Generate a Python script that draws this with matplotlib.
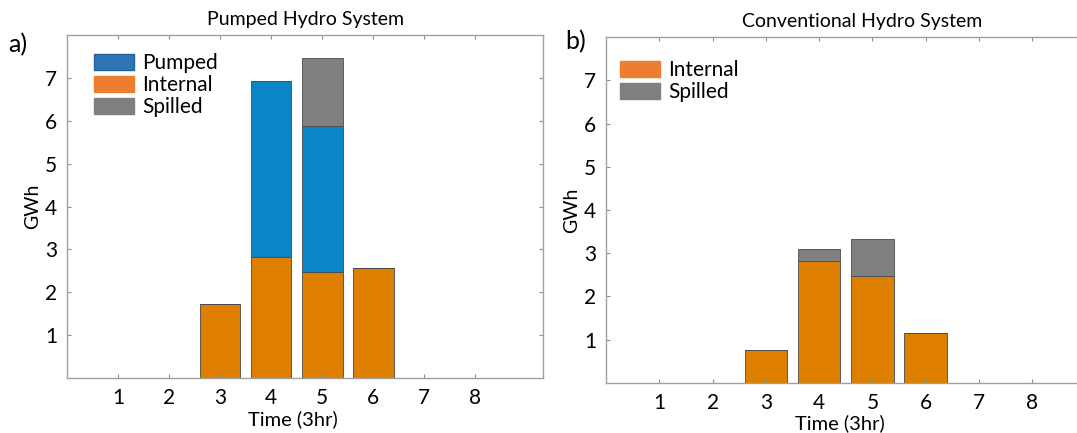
import matplotlib.pyplot as plt
from matplotlib.patches import Patch

plt.rcParams['font.family'] = ['Lato', 'DejaVu Sans']

# Data (GWh per 3 hr step)
time_steps = [1, 2, 3, 4, 5, 6, 7, 8]
pumped_internal = [0, 0, 1.72, 2.82, 2.47, 2.57, 0, 0]
pumped_pumped = [0, 0, 0, 4.11, 3.41, 0, 0, 0]
pumped_spilled = [0, 0, 0, 0, 1.58, 0, 0, 0]

conv_internal = [0, 0, 0.77, 2.83, 2.48, 1.15, 0, 0]
conv_spilled = [0, 0, 0, 0.26, 0.84, 0, 0, 0]

bar_orange = '#DF7F00'
bar_blue = '#0A85C8'
bar_grey = '#808080'
leg_blue = '#2E75B6'
leg_orange = '#ED7D31'
leg_grey = '#7F7F7F'
edge = '#4a4a4a'

fig = plt.figure(figsize=(10.77, 4.33), dpi=100)
ax1 = fig.add_axes([0.0622, 0.127, 0.442, 0.792])
ax2 = fig.add_axes([0.5627, 0.1155, 0.4615, 0.799])


def style(ax, xpad):
    ax.set_xlim(0, 9.33)
    ax.set_ylim(0, 8)
    ax.set_xticks(time_steps)
    ax.set_yticks([1, 2, 3, 4, 5, 6, 7])
    ax.tick_params(direction='in', top=True, right=True, length=3,
                   color='#909090', labelsize=15)
    ax.tick_params(axis='y', pad=7)
    ax.tick_params(axis='x', pad=xpad)
    for s in ax.spines.values():
        s.set_color('#a0a0a0')
        s.set_linewidth(1.0)
    ax.set_ylabel('GWh', fontsize=14, labelpad=3)


# a) pumped hydro
bottom2 = [a + b for a, b in zip(pumped_internal, pumped_pumped)]
ax1.bar(time_steps, pumped_internal, 0.8, color=bar_orange, edgecolor=edge, linewidth=0.6)
ax1.bar(time_steps, pumped_pumped, 0.8, bottom=pumped_internal, color=bar_blue,
        edgecolor=edge, linewidth=0.6)
ax1.bar(time_steps, pumped_spilled, 0.8, bottom=bottom2, color=bar_grey,
        edgecolor=edge, linewidth=0.6)
style(ax1, 7)
ax1.set_title('Pumped Hydro System', fontsize=14, pad=7)
ax1.set_xlabel('Time (3hr)', fontsize=14.5)
ax1.xaxis.set_label_coords(0.475, -0.093)
ax1.legend(handles=[Patch(facecolor=leg_blue, edgecolor='#2a5f94', label='Pumped'),
                    Patch(facecolor=leg_orange, edgecolor='#ED7D31', label='Internal'),
                    Patch(facecolor=leg_grey, edgecolor='#7F7F7F', label='Spilled')],
           loc='upper left', bbox_to_anchor=(0.057, 0.948), frameon=False, fontsize=15,
           handlelength=1.9, handleheight=0.8, labelspacing=0.1, handletextpad=0.4,
           borderaxespad=0, borderpad=0)
fig.text(0.008, 0.88, 'a)', fontsize=18)

# b) conventional hydro
ax2.bar(time_steps, conv_internal, 0.8, color=bar_orange, edgecolor=edge, linewidth=0.6)
ax2.bar(time_steps, conv_spilled, 0.8, bottom=conv_internal, color=bar_grey,
        edgecolor=edge, linewidth=0.6)
style(ax2, 7)
ax2.set_title('Conventional Hydro System', fontsize=14, pad=7, x=0.515)
ax2.set_xlabel('Time (3hr)', fontsize=14.5)
ax2.xaxis.set_label_coords(0.47, -0.089)
ax2.legend(handles=[Patch(facecolor=leg_orange, edgecolor='#ED7D31', label='Internal'),
                    Patch(facecolor=leg_grey, edgecolor='#7F7F7F', label='Spilled')],
           loc='upper left', bbox_to_anchor=(0.028, 0.933), frameon=False, fontsize=15,
           handlelength=1.9, handleheight=0.8, labelspacing=0.1, handletextpad=0.4,
           borderaxespad=0, borderpad=0)
fig.text(0.525, 0.885, 'b)', fontsize=18)

plt.savefig('out.png', dpi=100)
